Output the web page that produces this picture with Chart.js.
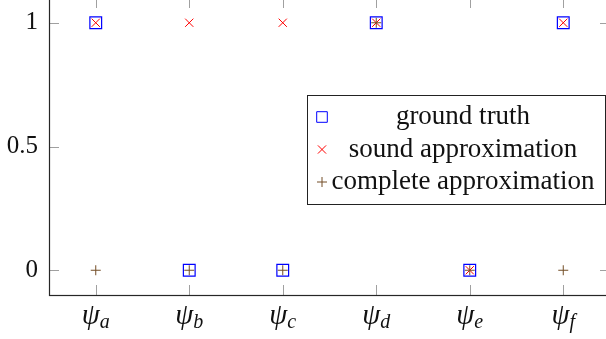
<!DOCTYPE html>
<html>
<head>
<meta charset="utf-8">
<script src="https://cdn.jsdelivr.net/npm/chart.js@4"></script>
<style>
  html, body { margin: 0; padding: 0; background: #fff; overflow: hidden; }
  #wrap { position: absolute; left: 0; top: -3px; width: 614px; height: 342px; }
</style>
</head>
<body>
<div id="wrap"><canvas id="chart" width="614" height="342"></canvas></div>
<script>
// formulas on the x axis, psi with subscript
const subs = ['a', 'b', 'c', 'd', 'e', 'f'];
const xPos = [1, 2, 3, 4, 5, 6];
const yTicks = [0, 0.5, 1];

const groundTruth = [1, 0, 0, 1, 0, 1];
const soundApprox = [1, 1, 1, 1, 0, 1];
const completeApprox = [0, 0, 0, 1, 0, 0];

const SERIF = '"Liberation Serif", "DejaVu Serif", serif';
const BROWN = '#734d26';

function pts(vals) {
  return vals.map((v, i) => ({ x: xPos[i], y: v }));
}

function noPad(s) {
  s.paddingTop = 0; s.paddingBottom = 0;
  s.paddingLeft = 0; s.paddingRight = 0;
}

// inner tick marks + frame, pgfplots style
const frame = {
  id: 'frame',
  beforeDatasetsDraw(chart) {
    const ctx = chart.ctx;
    const a = chart.chartArea;
    const xs = chart.scales.x, ys = chart.scales.y;
    const len = 10;
    ctx.save();
    ctx.strokeStyle = '#a0a0a0';
    ctx.lineWidth = 1;
    ctx.beginPath();
    xPos.forEach(v => {
      const px = Math.round(xs.getPixelForValue(v)) + 0.5;
      ctx.moveTo(px, a.bottom); ctx.lineTo(px, a.bottom - len);
      ctx.moveTo(px, a.top); ctx.lineTo(px, a.top + len);
    });
    yTicks.forEach(v => {
      const py = Math.round(ys.getPixelForValue(v)) + 0.5;
      ctx.moveTo(a.left, py); ctx.lineTo(a.left + len, py);
      ctx.moveTo(a.right, py); ctx.lineTo(a.right - len, py);
    });
    ctx.stroke();
    ctx.strokeStyle = '#262626';
    ctx.lineWidth = 1.2;
    ctx.strokeRect(Math.round(a.left) + 0.5, Math.round(a.top) + 0.5,
      Math.round(a.right - a.left), Math.round(a.bottom - a.top));
    ctx.restore();
  },
  afterDraw(chart) {
    // x labels: psi_a ... psi_f
    const ctx = chart.ctx;
    const xs = chart.scales.x;
    const base = chart.chartArea.bottom + 29;
    ctx.save();
    ctx.fillStyle = '#111';
    ctx.textBaseline = 'alphabetic';
    subs.forEach((s, i) => {
      const px = xs.getPixelForValue(xPos[i]);
      ctx.font = 'italic 29px ' + SERIF;
      const w1 = ctx.measureText('\u03c8').width;
      ctx.font = 'italic 20px ' + SERIF;
      const w2 = ctx.measureText(s).width;
      const start = px - (w1 + w2) / 2;
      ctx.font = 'italic 29px ' + SERIF;
      ctx.textAlign = 'left';
      ctx.fillText('\u03c8', start, base);
      ctx.font = 'italic 20px ' + SERIF;
      ctx.fillText(s, start + w1, base + 4);
    });

    // legend box
    const a = chart.chartArea;
    const bx = a.right - 303, by = a.top + 97, bw = 298, bh = 109;
    ctx.fillStyle = '#fff';
    ctx.fillRect(bx, by, bw, bh);
    ctx.strokeStyle = '#222';
    ctx.lineWidth = 1;
    ctx.strokeRect(Math.round(bx) + 0.5, Math.round(by) + 0.5, bw, bh);
    const rowY = [by + 22, by + 54.5, by + 87];
    chart.data.datasets.forEach((ds, i) => {
      ctx.save();
      ctx.strokeStyle = ds.borderColor;
      ctx.fillStyle = 'rgba(0,0,0,0)';
      ctx.lineWidth = 1;
      Chart.helpers.drawPoint(ctx, {
        pointStyle: ds.pointStyle, radius: ds.pointStyle === 'rect' ? 7.5 : ds.pointRadius, borderWidth: 1
      }, bx + 15, rowY[i]);
      ctx.restore();
      ctx.font = '27px ' + SERIF;
      ctx.textAlign = 'center';
      ctx.textBaseline = 'middle';
      ctx.fillStyle = '#111';
      ctx.fillText(ds.label, bx + 156, rowY[i]);
    });
    ctx.restore();
  }
};

new Chart(document.getElementById('chart'), {
  type: 'scatter',
  data: {
    datasets: [{
      label: 'ground truth',
      data: pts(groundTruth),
      pointStyle: 'rect',
      pointRadius: 8.3,
      borderColor: '#0000ff',
      backgroundColor: 'rgba(0,0,0,0)',
      borderWidth: 1.2,
      order: 3
    }, {
      label: 'sound approximation',
      data: pts(soundApprox),
      pointStyle: 'crossRot',
      pointRadius: 5.8,
      borderColor: '#ff0000',
      backgroundColor: '#ff0000',
      borderWidth: 1,
      order: 2
    }, {
      label: 'complete approximation',
      data: pts(completeApprox),
      pointStyle: 'cross',
      pointRadius: 5,
      borderColor: BROWN,
      backgroundColor: BROWN,
      borderWidth: 1,
      order: 1
    }]
  },
  options: {
    responsive: false,
    animation: false,
    devicePixelRatio: 1,
    layout: { autoPadding: false, padding: { top: 1, right: 4, left: 0, bottom: 0 } },
    plugins: { legend: { display: false }, tooltip: { enabled: false } },
    elements: { point: { hoverRadius: 8 } },
    scales: {
      x: {
        type: 'linear',
        min: 0.5,
        max: 6.5,
        grid: { display: false, drawTicks: false },
        border: { display: false },
        ticks: { display: false },
        afterBuildTicks(s) { s.ticks = xPos.map(v => ({ value: v })); },
        afterFit(s) { s.height = 44; noPad(s); }
      },
      y: {
        min: -0.1,
        max: 1.1,
        grid: { display: false, drawTicks: false },
        border: { display: false },
        afterBuildTicks(s) { s.ticks = yTicks.map(v => ({ value: v })); },
        ticks: {
          padding: 11,
          color: '#111',
          font: { family: SERIF, size: 25 },
          callback: v => String(v)
        },
        afterFit(s) { s.width = 49; noPad(s); }
      }
    }
  },
  plugins: [frame]
});
</script>
</body>
</html>
